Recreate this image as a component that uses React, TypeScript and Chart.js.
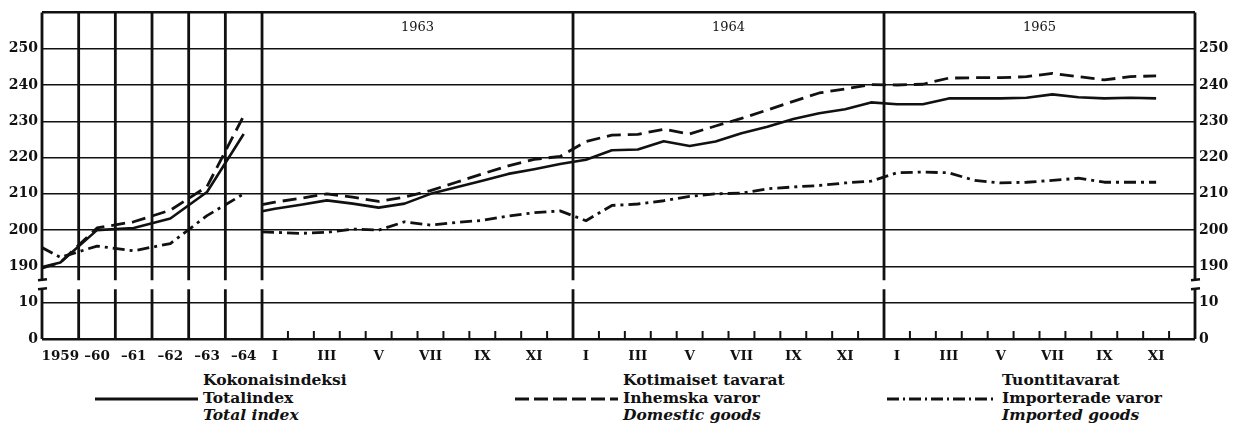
import React, { useEffect, useRef } from 'react';
import { Chart, registerables } from 'chart.js';
Chart.register(...registerables);

// ---------- data ----------
const ANNUAL_LABELS = ['1959', '–60', '–61', '–62', '–63', '–64'];
const YEARS = ['1963', '1964', '1965'];
const MONTH_LABELS = ['I', 'II', 'III', 'IV', 'V', 'VI', 'VII', 'VIII', 'IX', 'X', 'XI', 'XII'];

// annual values: first value = line start at the left edge, then 1959..1964
const TOTAL_ANNUAL = [189.8, 191.1, 200.0, 200.6, 203.2, 210.5, 226.5];
const DOMESTIC_ANNUAL = [189.5, 191.1, 200.6, 202.3, 205.5, 212.0, 231.5];
const IMPORTED_ANNUAL = [195.2, 192.5, 195.6, 194.3, 196.3, 204.0, 210.0];

// monthly values: start value at the 1963 section edge, then months
const TOTAL_START = 205.2;
const TOTAL_1963 = [205.9, 207.0, 208.2, 207.3, 206.2, 207.3, 210.0, 211.8, 213.6, 215.5, 216.8, 218.2];
const TOTAL_1964 = [219.4, 222.0, 222.2, 224.5, 223.2, 224.4, 226.7, 228.5, 230.6, 232.2, 233.3, 235.2];
const TOTAL_1965 = [234.7, 234.7, 236.3, 236.3, 236.3, 236.5, 237.4, 236.6, 236.3, 236.5, 236.3];

const DOMESTIC_START = 207.0;
const DOMESTIC_1963 = [207.7, 208.8, 210.0, 209.1, 207.9, 209.1, 210.9, 213.2, 215.5, 217.7, 219.5, 220.3];
const DOMESTIC_1964 = [224.4, 226.2, 226.4, 227.8, 226.5, 228.7, 230.8, 233.1, 235.5, 237.8, 238.9, 240.1];
const DOMESTIC_1965 = [240.0, 240.2, 241.9, 242.0, 242.0, 242.3, 243.2, 242.3, 241.4, 242.3, 242.5];

const IMPORTED_START = 199.5;
const IMPORTED_1963 = [199.4, 199.1, 199.4, 200.3, 200.0, 202.3, 201.4, 202.1, 202.7, 203.9, 204.8, 205.3];
const IMPORTED_1964 = [202.6, 206.8, 207.2, 208.1, 209.3, 210.0, 210.2, 211.4, 211.9, 212.3, 213.0, 213.5];
const IMPORTED_1965 = [215.8, 216.0, 215.8, 213.7, 213.0, 213.2, 213.7, 214.3, 213.2, 213.2, 213.2];

const LEGEND_TOTAL = ['Kokonaisindeksi', 'Totalindex', 'Total index'];
const LEGEND_DOMESTIC = ['Kotimaiset tavarat', 'Inhemska varor', 'Domestic goods'];
const LEGEND_IMPORTED = ['Tuontitavarat', 'Importerade varor', 'Imported goods'];

// ---------- scale helpers ----------
const COL = 1.415; // width of one annual column, in months
const MONTH0 = 6 * COL;
const XMAX = MONTH0 + 12 * YEARS.length;
const SHIFT = 170; // broken axis: values >= 190 are drawn shifted down
const BREAK_LO = 13.7;
const BREAK_HI = 16.2;
const toAxis = (v: number) => (v >= 100 ? v - SHIFT : v);

const INK = '#111';

function annualPoints(vals: number[]) {
  return vals.map((v, i) => ({ x: i === 0 ? 0 : (i - 0.5) * COL, y: toAxis(v) }));
}
function monthlyPoints(start: number, years: number[][]) {
  const pts = [{ x: MONTH0, y: toAxis(start) }];
  years.forEach((arr, yi) => {
    arr.forEach((v, mi) => pts.push({ x: MONTH0 + 12 * yi + mi + 0.5, y: toAxis(v) }));
  });
  return pts;
}

const tickLabel = (v: number) => {
  if (v === 0 || v === 10) return String(v);
  if (v >= 20 && v <= 80) return String(v + SHIFT);
  return '';
};

const xTicks: { value: number; label: string }[] = [];
ANNUAL_LABELS.forEach((l, i) => xTicks.push({ value: (i + 0.5) * COL, label: l }));
YEARS.forEach((_, yi) => {
  MONTH_LABELS.forEach((l, mi) => {
    if (mi % 2 === 0) xTicks.push({ value: MONTH0 + 12 * yi + mi + 0.5, label: l });
  });
});

const STYLES = {
  total: { borderDash: [] as number[], borderWidth: 2.6 },
  domestic: { borderDash: [14, 7], borderWidth: 2.8 },
  imported: { borderDash: [12, 5, 3, 5], borderWidth: 2.8 },
};

const framePlugin = {
  id: 'frame',
  beforeDatasetsDraw(chart: any) {
    const { ctx, chartArea, scales } = chart;
    const x = scales.x;
    const y = scales.y;
    const gTop = y.getPixelForValue(BREAK_HI);
    const gBot = y.getPixelForValue(BREAK_LO);
    ctx.save();
    ctx.strokeStyle = INK;
    ctx.lineCap = 'butt';
    const verticals: number[] = [0, XMAX];
    for (let i = 1; i < ANNUAL_LABELS.length; i++) verticals.push(i * COL);
    YEARS.forEach((_, yi) => verticals.push(MONTH0 + 12 * yi));
    ctx.lineWidth = 2.8;
    verticals.forEach((v) => {
      const px = x.getPixelForValue(v);
      ctx.beginPath();
      ctx.moveTo(px, chartArea.top);
      ctx.lineTo(px, gTop);
      ctx.moveTo(px, gBot);
      ctx.lineTo(px, chartArea.bottom);
      ctx.stroke();
    });
    // break serifs on the outer axes
    ctx.lineWidth = 2.4;
    [0, XMAX].forEach((v) => {
      const px = x.getPixelForValue(v);
      ctx.beginPath();
      ctx.moveTo(px - 4, gTop);
      ctx.lineTo(px + 5, gTop - 1);
      ctx.moveTo(px - 4, gBot);
      ctx.lineTo(px + 5, gBot - 1);
      ctx.stroke();
    });
    // month ticks
    ctx.lineWidth = 2;
    YEARS.forEach((_, yi) => {
      for (let m = 1; m < 12; m++) {
        const px = x.getPixelForValue(MONTH0 + 12 * yi + m);
        ctx.beginPath();
        ctx.moveTo(px, chartArea.bottom);
        ctx.lineTo(px, chartArea.bottom - 8);
        ctx.stroke();
      }
    });
    ctx.restore();
  },
  afterDraw(chart: any) {
    const { ctx, chartArea, scales } = chart;
    ctx.save();
    ctx.fillStyle = INK;
    ctx.font = '13px "DejaVu Serif"';
    ctx.textAlign = 'center';
    ctx.textBaseline = 'middle';
    YEARS.forEach((yr, yi) => {
      const px = scales.x.getPixelForValue(MONTH0 + 12 * yi + 6);
      ctx.fillText(yr, px, chartArea.top + 15);
    });
    ctx.restore();
  },
};

function LegendSample({ dash, width }: { dash: number[]; width: number }) {
  return (
    <svg width={width} height={6} style={{ display: 'block' }}>
      <line
        x1={0}
        y1={3}
        x2={width}
        y2={3}
        stroke={INK}
        strokeWidth={2.8}
        strokeDasharray={dash.length ? dash.join(' ') : undefined}
      />
    </svg>
  );
}

function LegendGroup({ left, sampleLeft, texts, dash }: { left: number; sampleLeft: number; texts: string[]; dash: number[] }) {
  return (
    <>
      <div style={{ position: 'absolute', left: sampleLeft, top: 396 }}>
        <LegendSample dash={dash} width={left - sampleLeft - 5} />
      </div>
      <div
        style={{
          position: 'absolute',
          left,
          top: 371,
          fontFamily: '"DejaVu Serif", serif',
          fontSize: 15.5,
          lineHeight: '17.5px',
          color: INK,
          whiteSpace: 'nowrap',
        }}
      >
        <div style={{ fontWeight: 'bold' }}>{texts[0]}</div>
        <div style={{ fontWeight: 'bold' }}>{texts[1]}</div>
        <div style={{ fontWeight: 'bold', fontStyle: 'italic' }}>{texts[2]}</div>
      </div>
    </>
  );
}

export default function App() {
  const ref = useRef<HTMLCanvasElement | null>(null);
  useEffect(() => {
    if (!ref.current) return;
    const mk = (label: string, data: any[], st: any) => ({
      label,
      data,
      borderColor: INK,
      borderWidth: st.borderWidth,
      borderDash: st.borderDash,
      borderCapStyle: 'butt',
      borderJoinStyle: 'round',
      pointRadius: 0,
      tension: 0,
      fill: false,
    });
    const tickFont = { family: '"DejaVu Serif"', size: 14, weight: 'bold' };
    const chart = new Chart(ref.current, {
      type: 'line',
      data: {
        datasets: [
          mk('Total index', annualPoints(TOTAL_ANNUAL), STYLES.total),
          mk('Domestic goods', annualPoints(DOMESTIC_ANNUAL), STYLES.domestic),
          mk('Imported goods', annualPoints(IMPORTED_ANNUAL), STYLES.imported),
          mk('Total index', monthlyPoints(TOTAL_START, [TOTAL_1963, TOTAL_1964, TOTAL_1965]), STYLES.total),
          mk('Domestic goods', monthlyPoints(DOMESTIC_START, [DOMESTIC_1963, DOMESTIC_1964, DOMESTIC_1965]), STYLES.domestic),
          mk('Imported goods', monthlyPoints(IMPORTED_START, [IMPORTED_1963, IMPORTED_1964, IMPORTED_1965]), STYLES.imported),
        ] as any,
      },
      options: {
        animation: false,
        responsive: false,
        devicePixelRatio: 1,
        layout: { padding: { top: 9, left: 0, right: 0, bottom: 0 } },
        plugins: { legend: { display: false }, tooltip: { enabled: false } },
        scales: {
          x: {
            type: 'linear',
            min: 0,
            max: XMAX,
            grid: { display: false },
            border: { display: false },
            afterBuildTicks: (scale: any) => {
              scale.ticks = xTicks.map((t) => ({ value: t.value }));
            },
            afterFit: (scale: any) => {
              scale.height = 23;
            },
            ticks: {
              autoSkip: false,
              maxRotation: 0,
              minRotation: 0,
              padding: 1,
              color: INK,
              font: { family: '"DejaVu Serif"', size: 13.5, weight: 'bold' },
              callback: (_v: any, i: number) => xTicks[i]?.label ?? '',
            },
          },
          y: {
            type: 'linear',
            position: 'left',
            min: 0,
            max: 90,
            border: { display: false },
            grid: {
              color: INK,
              drawTicks: false,
              lineWidth: (c: any) => (c.tick && (c.tick.value === 0 || c.tick.value === 90) ? 2.6 : 1.4),
            },
            afterFit: (scale: any) => {
              scale.width = 42;
            },
            ticks: {
              stepSize: 10,
              padding: 4,
              color: INK,
              font: tickFont,
              callback: (v: any) => tickLabel(Number(v)),
            },
          },
          y2: {
            type: 'linear',
            position: 'right',
            min: 0,
            max: 90,
            border: { display: false },
            grid: { display: false, drawTicks: false },
            afterFit: (scale: any) => {
              scale.width = 47;
            },
            ticks: {
              stepSize: 10,
              padding: 4,
              color: INK,
              font: tickFont,
              callback: (v: any) => tickLabel(Number(v)),
            },
          },
        },
      } as any,
      plugins: [framePlugin],
    });
    return () => chart.destroy();
  }, []);

  return (
    <div style={{ position: 'fixed', left: 0, top: 0, width: 1242, height: 428, background: '#fff', overflow: 'hidden' }}>
      <canvas ref={ref} width={1242} height={362} style={{ position: 'absolute', left: 0, top: 0, width: 1242, height: 362 }} />
      <LegendGroup left={203} sampleLeft={95} texts={LEGEND_TOTAL} dash={[]} />
      <LegendGroup left={623} sampleLeft={515} texts={LEGEND_DOMESTIC} dash={[14, 5]} />
      <LegendGroup left={1002} sampleLeft={887} texts={LEGEND_IMPORTED} dash={[12, 4, 2, 4]} />
    </div>
  );
}
